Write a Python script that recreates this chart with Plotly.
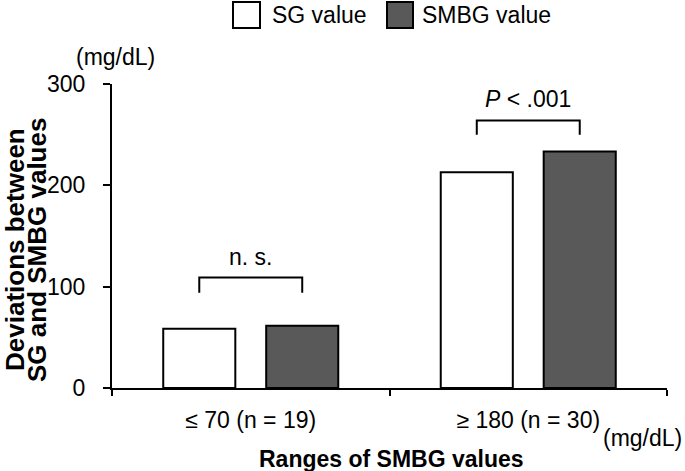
import numpy as np
import plotly.graph_objects as go

# ---- data ----
categories = ["≤ 70 (n = 19)", "≥ 180 (n = 30)"]
sg_values = [58.5, 213]
smbg_values = [61.5, 233.5]
bracket_top = [109, 264]
bracket_bottom = [94, 250]
sig_labels = ["n. s.", "<i>P</i> < .001"]
y_ticks = [0, 100, 200, 300]
series_names = ["SG value", "SMBG value"]
series_colors = ["#ffffff", "#595959"]
y_title_lines = ["Deviations between", "SG and SMBG values"]

FONT = "Liberation Sans, Arial, sans-serif"
W, H = 685, 471
L, R, T, B = 112, 667, 84, 388

def px_x(p):
    return (p - L) / (R - L)

def px_y(p):
    return (B - p) / (B - T)

x = np.arange(len(categories))
bargap = 0.258
bargroupgap = 0.30
half = (1 - bargap) / 4  # offset of each bar center from category center

fig = go.Figure()
for name, vals, col in zip(series_names, [sg_values, smbg_values], series_colors):
    fig.add_trace(go.Bar(
        x=x, y=vals, name=name,
        marker=dict(color=col, line=dict(color="black", width=2)),
        showlegend=False, hoverinfo="skip",
    ))

shapes = []
annotations = []
for xi, top, bot, lab in zip(x, bracket_top, bracket_bottom, sig_labels):
    shapes.append(dict(
        type="path", xref="x", yref="y",
        path=f"M {xi-half},{bot} L {xi-half},{top} L {xi+half},{top} L {xi+half},{bot}",
        line=dict(color="black", width=2),
    ))
    annotations.append(dict(
        x=xi, y=top, xref="x", yref="y", text=lab, showarrow=False,
        yanchor="bottom", xanchor="center", yshift=6,
        font=dict(family=FONT, size=23, color="black"),
    ))

# legend (manual, large boxes)
leg_boxes = [(233, 260), (387, 413)]
leg_text_x = [270, 420]
for (x0, x1), tx, name, col in zip(leg_boxes, leg_text_x, series_names, series_colors):
    shapes.append(dict(
        type="rect", xref="paper", yref="paper",
        x0=px_x(x0), x1=px_x(x1), y0=px_y(28), y1=px_y(2),
        fillcolor=col, line=dict(color="black", width=2),
    ))
    annotations.append(dict(
        x=px_x(tx), y=px_y(15), xref="paper", yref="paper", text=name,
        showarrow=False, xanchor="left", yanchor="middle",
        font=dict(family=FONT, size=23, color="black"),
    ))

# units
annotations.append(dict(
    x=px_x(115), y=px_y(57), xref="paper", yref="paper", text="(mg/dL)",
    showarrow=False, xanchor="center", yanchor="middle",
    font=dict(family=FONT, size=23, color="black"),
))
annotations.append(dict(
    x=px_x(684), y=px_y(438), xref="paper", yref="paper", text="(mg/dL)",
    showarrow=False, xanchor="right", yanchor="middle",
    font=dict(family=FONT, size=23, color="black"),
))
# y title (two tightly spaced lines)
for cx, cy, line in zip([15, 37], [250, 250], y_title_lines):
    annotations.append(dict(
        x=px_x(cx), y=px_y(cy), xref="paper", yref="paper",
        text=f"<b>{line}</b>",
        showarrow=False, xanchor="center", yanchor="middle", textangle=-90,
        font=dict(family=FONT, size=26, color="black"),
    ))
# x title
annotations.append(dict(
    x=px_x(391), y=px_y(459), xref="paper", yref="paper",
    text="<b>Ranges of SMBG values</b>",
    showarrow=False, xanchor="center", yanchor="middle",
    font=dict(family=FONT, size=23, color="black"),
))

fig.update_layout(
    width=W, height=H,
    margin=dict(l=L, r=W - R, t=T, b=H - B, pad=0),
    paper_bgcolor="white", plot_bgcolor="white",
    barmode="group", bargap=bargap, bargroupgap=bargroupgap,
    shapes=shapes, annotations=annotations,
    font=dict(family=FONT, size=23, color="black"),
    showlegend=False, hovermode=False,
)
fig.update_xaxes(
    range=[-0.5, len(categories) - 0.5],
    tickvals=x, ticktext=categories, ticks="",
    showline=True, linecolor="black", linewidth=2,
    showgrid=False, zeroline=False,
    tickfont=dict(family=FONT, size=23, color="black"),
    ticklabelstandoff=10,
    minor=dict(tickvals=list(np.arange(-0.5, len(categories), 1.0)),
               ticks="outside", ticklen=6, tickwidth=2, tickcolor="black",
               showgrid=False),
)
fig.update_yaxes(
    range=[0, 300], tickvals=y_ticks,
    ticks="outside", ticklen=7, tickwidth=2, tickcolor="black",
    showline=True, linecolor="black", linewidth=2,
    showgrid=False, zeroline=False,
    tickfont=dict(family=FONT, size=23, color="black"),
    ticklabelstandoff=13,
)

fig.write_html(
    "out.html",
    config={"displayModeBar": False},
    post_script="document.body.style.margin='0';document.body.style.padding='0';document.body.style.overflow='hidden';",
)
